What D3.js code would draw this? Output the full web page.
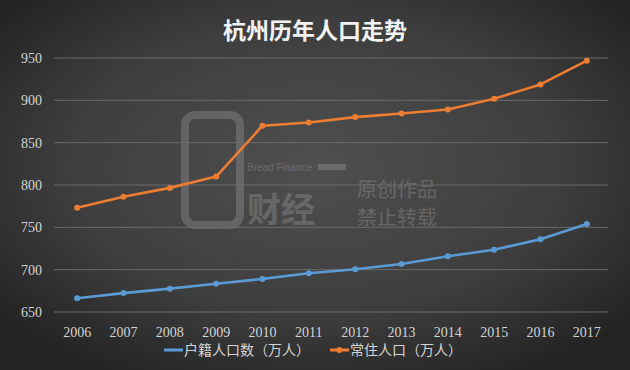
<!DOCTYPE html>
<html><head><meta charset="utf-8">
<script src="https://cdn.jsdelivr.net/npm/d3@7"></script>
<style>html,body{margin:0;padding:0;background:#333;}svg{display:block;}</style>
</head><body>
<svg id="c" width="630" height="370"></svg>
<script>
const years = ["2006","2007","2008","2009","2010","2011","2012","2013","2014","2015","2016","2017"];
const huji = [666.3,672.3,677.6,683.4,689.1,695.7,700.5,706.6,715.8,723.6,736.0,753.9];
const changzhu = [773.1,786.2,796.6,810.0,870.0,873.8,880.2,884.4,889.2,901.8,918.8,946.8];
const yTicks = [650,700,750,800,850,900,950];
const seriesNames = ["户籍人口数（万人）","常住人口（万人）"];
const colors = ["#5B9BD5","#ED7D31"];

const W=630,H=370;
const svg=d3.select("#c");
const defs=svg.append("defs");
const rg=defs.append("radialGradient").attr("id","bg").attr("cx","50%").attr("cy","45%").attr("r","65%");
rg.append("stop").attr("offset","0%").attr("stop-color","#4f4f4f");
rg.append("stop").attr("offset","60%").attr("stop-color","#3e3e3e");
rg.append("stop").attr("offset","100%").attr("stop-color","#232323");
svg.append("rect").attr("width",W).attr("height",H).attr("fill","url(#bg)");

const m={l:54,r:20,t:58,b:58};
const x=d3.scaleBand().domain(years).range([m.l,W-m.r]);
const y=d3.scaleLinear().domain([650,950]).range([H-m.b,m.t]);

// watermark
const wm=svg.append("g").attr("opacity",0.16).attr("fill","#ffffff").attr("stroke","#ffffff");
wm.append("rect").attr("x",185).attr("y",115).attr("width",55).attr("height",110).attr("rx",10).attr("fill","none").attr("stroke-width",8);
wm.append("text").attr("x",247).attr("y",171).attr("font-family","Arial, sans-serif").attr("font-size",10).attr("stroke","none").text("Bread Finance");
wm.append("rect").attr("x",318).attr("y",164).attr("width",28).attr("height",6).attr("stroke","none");
wm.append("text").attr("x",247).attr("y",222).attr("font-family","'Noto Sans CJK SC'").attr("font-size",34).attr("font-weight","bold").attr("stroke","none").text("财经");
wm.append("text").attr("x",357).attr("y",197).attr("font-family","'Noto Sans CJK SC'").attr("font-size",20).attr("stroke","none").text("原创作品");
wm.append("text").attr("x",357).attr("y",225).attr("font-family","'Noto Sans CJK SC'").attr("font-size",20).attr("stroke","none").text("禁止转载");

// grid
svg.append("g").selectAll("line").data(yTicks).join("line")
 .attr("x1",m.l).attr("x2",W-m.r-2).attr("y1",d=>y(d)).attr("y2",d=>y(d))
 .attr("stroke","#6a6a6a").attr("stroke-width",1);

// y labels
const yAxis=svg.append("g").attr("transform",`translate(${m.l-12},0)`)
 .call(d3.axisLeft(y).tickValues(yTicks).tickSize(0).tickPadding(0));
yAxis.select(".domain").remove();
yAxis.selectAll("text").attr("fill","#d4d4d4").attr("font-family","'Liberation Serif', serif").attr("font-size",14);

// x labels
const xAxis=svg.append("g").attr("transform",`translate(0,${H-m.b+20})`)
 .call(d3.axisBottom(x).tickSize(0).tickPadding(0));
xAxis.select(".domain").remove();
xAxis.selectAll("text").attr("fill","#d4d4d4").attr("font-family","'Liberation Serif', serif").attr("font-size",14).attr("dy","0.35em");

const cx=d=>x(d)+x.bandwidth()/2;
const line=d3.line().x((d,i)=>cx(years[i])).y(d=>y(d));
[huji,changzhu].forEach((s,k)=>{
  const g=svg.append("g");
  g.append("path").datum(s).attr("d",line).attr("fill","none").attr("stroke",colors[k]).attr("stroke-width",2.6).attr("stroke-linejoin","round");
  g.selectAll("circle").data(s).join("circle").attr("cx",(d,i)=>cx(years[i])).attr("cy",d=>y(d)).attr("r",3).attr("fill",colors[k]);
});

// title
svg.append("text").attr("x",W/2).attr("y",39).attr("text-anchor","middle")
 .attr("font-family","'Noto Sans CJK SC'").attr("font-size",23).attr("font-weight","bold").attr("fill","#f2f2f2").text("杭州历年人口走势");

// legend
const lg=svg.append("g");
const lx=[164,330];
seriesNames.forEach((n,k)=>{
  lg.append("line").attr("x1",lx[k]).attr("x2",lx[k]+19).attr("y1",350).attr("y2",350).attr("stroke",colors[k]).attr("stroke-width",3);
  if(k===1) lg.append("circle").attr("cx",lx[k]+9.5).attr("cy",350).attr("r",3).attr("fill",colors[k]);
  lg.append("text").attr("x",lx[k]+20).attr("y",350).attr("dy","0.35em").attr("font-family","'Noto Sans CJK SC'").attr("font-size",14).attr("fill","#d4d4d4").text(n);
});
</script>
</body></html>
